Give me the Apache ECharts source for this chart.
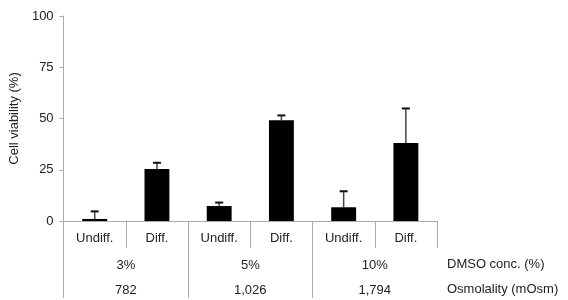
<!DOCTYPE html>
<html>
<head>
<meta charset="utf-8">
<script src="https://cdn.jsdelivr.net/npm/echarts@6/dist/echarts.min.js"></script>
<style>html,body{margin:0;padding:0;background:#fff;}#c{width:568px;height:300px;}</style>
</head>
<body>
<div id="c"></div>
<script>
const categories = ['Undiff.', 'Diff.', 'Undiff.', 'Diff.', 'Undiff.', 'Diff.'];
const viability = [1.0, 25.4, 7.3, 49.2, 6.7, 38.1];
const errorUp = [3.7, 3.0, 1.7, 2.3, 7.8, 16.8];
const dmsoLabels = ['3%', '5%', '10%'];
const osmLabels = ['782', '1,026', '1,794'];
const yTicks = [0, 25, 50, 75, 100];

const FONT = 'Liberation Sans, Arial, sans-serif';
const FS = 13;
const AX = '#aaaaaa';
const TXT = '#222';

const chart = echarts.init(document.getElementById('c'), null, {renderer: 'canvas'});
chart.setOption({
  animation: false,
  grid: {left: 61, right: 131, top: 16, bottom: 79, containLabel: false},
  xAxis: [
    {type: 'category', data: categories, position: 'bottom', boundaryGap: true,
     axisLine: {show: true, lineStyle: {color: AX, width: 1}},
     axisTick: {show: true, interval: 0, length: 27, lineStyle: {color: AX, width: 1}},
     axisLabel: {interval: 0, margin: 11, color: TXT, fontSize: FS, fontFamily: FONT}},
    {type: 'category', data: dmsoLabels, position: 'bottom', boundaryGap: true,
     axisLine: {show: false},
     axisTick: {show: true, interval: 0, length: 77, lineStyle: {color: AX, width: 1}},
     axisLabel: {interval: 0, margin: 38, color: TXT, fontSize: FS, fontFamily: FONT}},
    {type: 'category', data: osmLabels, position: 'bottom', boundaryGap: true,
     axisLine: {show: false}, axisTick: {show: false},
     axisLabel: {interval: 0, margin: 63, color: TXT, fontSize: FS, fontFamily: FONT}}
  ],
  yAxis: {
    type: 'value', min: yTicks[0], max: yTicks[yTicks.length - 1], interval: 25,
    name: 'Cell viability (%)', nameLocation: 'middle', nameGap: 33,
    nameTextStyle: {color: TXT, fontSize: FS, fontFamily: FONT},
    axisLine: {show: true, lineStyle: {color: AX, width: 1}},
    axisTick: {show: true, length: 4, lineStyle: {color: AX}},
    splitLine: {show: false},
    axisLabel: {margin: 10, color: TXT, fontSize: FS, fontFamily: FONT}
  },
  graphic: [
    {type: 'text', left: 447, top: 258, style: {text: 'DMSO conc. (%)', fill: TXT, font: FS + 'px ' + FONT}},
    {type: 'text', left: 447, top: 283, style: {text: 'Osmolality (mOsm)', fill: TXT, font: FS + 'px ' + FONT}}
  ],
  series: [
    {type: 'bar', xAxisIndex: 0, data: viability, barWidth: '40%',
     itemStyle: {color: '#000'}, z: 3},
    {type: 'custom', xAxisIndex: 0, z: 2,
     data: viability.map((v, i) => [i, v, v + errorUp[i]]),
     renderItem: function (params, api) {
       const x = api.coord([api.value(0), api.value(1)])[0];
       const y0 = api.coord([api.value(0), api.value(1)])[1];
       const y1 = api.coord([api.value(0), api.value(2)])[1];
       const hw = 4;
       return {type: 'group', children: [
         {type: 'line', shape: {x1: x, y1: y0, x2: x, y2: y1}, style: {stroke: '#444', lineWidth: 1.5}},
         {type: 'line', shape: {x1: x - hw, y1: y1, x2: x + hw, y2: y1}, style: {stroke: '#111', lineWidth: 2}}
       ]};
     }}
  ]
});
</script>
</body>
</html>
